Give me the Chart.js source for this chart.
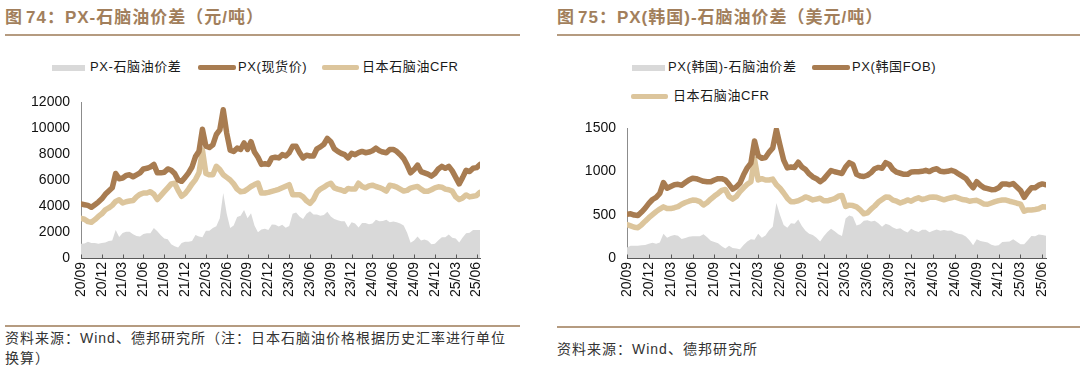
<!DOCTYPE html>
<html><head><meta charset="utf-8">
<script src="https://cdn.jsdelivr.net/npm/chart.js@4"></script>
<style>
html,body{margin:0;padding:0;background:#fff;}
body{width:1080px;height:381px;position:relative;overflow:hidden;font-family:"Liberation Sans","Noto Sans CJK SC",sans-serif;}
.abs{position:absolute;white-space:nowrap;}
.title{font-weight:bold;font-size:17px;color:#a27f5c;top:7px;line-height:21px;letter-spacing:1px;}
.rule{position:absolute;height:2px;background:#b59b80;}
.lg{font-size:13px;color:#1a1a1a;line-height:16px;letter-spacing:0.6px;}
.sw{position:absolute;}
.foot{font-size:14px;color:#333;letter-spacing:1px;line-height:20px;}
canvas{position:absolute;}
</style></head>
<body>
<div class="abs title" style="left:5px;"><span style="margin-right:3px">图</span>74：PX-石脑油价差（元/吨）</div>
<div class="abs title" style="left:557px;"><span style="margin-right:3px">图</span>75：PX(韩国)-石脑油价差（美元/吨）</div>
<div class="rule" style="left:5px;top:34px;width:515px;"></div>
<div class="rule" style="left:557px;top:34px;width:523px;"></div>

<div class="sw" style="left:52px;top:65px;width:33px;height:6px;background:#d9d9d9;"></div>
<div class="abs lg" style="left:90px;top:59px;">PX-石脑油价差</div>
<div class="sw" style="left:198px;top:65px;width:38px;height:5px;background:#a87c51;border-radius:2px;"></div>
<div class="abs lg" style="left:238px;top:59px;">PX(现货价)</div>
<div class="sw" style="left:322px;top:65px;width:37px;height:5px;background:#dcc59c;border-radius:2px;"></div>
<div class="abs lg" style="left:362px;top:59px;">日本石脑油CFR</div>

<div class="sw" style="left:632px;top:65px;width:33px;height:6px;background:#d9d9d9;"></div>
<div class="abs lg" style="left:668px;top:59px;">PX(韩国)-石脑油价差</div>
<div class="sw" style="left:812px;top:65px;width:38px;height:5px;background:#a87c51;border-radius:2px;"></div>
<div class="abs lg" style="left:852px;top:59px;">PX(韩国FOB)</div>
<div class="sw" style="left:631px;top:94px;width:37px;height:5px;background:#dcc59c;border-radius:2px;"></div>
<div class="abs lg" style="left:673px;top:88px;">日本石脑油CFR</div>

<canvas id="c1" width="489" height="218" style="left:0px;top:92px;"></canvas>
<canvas id="c2" width="515" height="192" style="left:540px;top:118px;"></canvas>

<div class="rule" style="left:5px;top:325px;width:515px;"></div>
<div class="rule" style="left:557px;top:326px;width:523px;"></div>
<div class="abs foot" style="left:5px;top:328px;">资料来源：Wind、德邦研究所（注：日本石脑油价格根据历史汇率进行单位</div>
<div class="abs foot" style="left:5px;top:348px;">换算）</div>
<div class="abs foot" style="left:557px;top:339px;">资料来源：Wind、德邦研究所</div>

<script>
// half-month observation dates
const periods = [
'2020-09-01','2020-09-16','2020-10-01','2020-10-16','2020-11-01','2020-11-16','2020-12-01','2020-12-16',
'2021-01-01','2021-01-16','2021-02-01','2021-02-16','2021-03-01','2021-03-16','2021-04-01','2021-04-16',
'2021-05-01','2021-05-16','2021-06-01','2021-06-16','2021-07-01','2021-07-16','2021-08-01','2021-08-16',
'2021-09-01','2021-09-16','2021-10-01','2021-10-16','2021-11-01','2021-11-16','2021-12-01','2021-12-16',
'2022-01-01','2022-01-16','2022-02-01','2022-02-16','2022-03-01','2022-03-16','2022-04-01','2022-04-16',
'2022-05-01','2022-05-16','2022-06-01','2022-06-16','2022-07-01','2022-07-16','2022-08-01','2022-08-16',
'2022-09-01','2022-09-16','2022-10-01','2022-10-16','2022-11-01','2022-11-16','2022-12-01','2022-12-16',
'2023-01-01','2023-01-16','2023-02-01','2023-02-16','2023-03-01','2023-03-16','2023-04-01','2023-04-16',
'2023-05-01','2023-05-16','2023-06-01','2023-06-16','2023-07-01','2023-07-16','2023-08-01','2023-08-16',
'2023-09-01','2023-09-16','2023-10-01','2023-10-16','2023-11-01','2023-11-16','2023-12-01','2023-12-16',
'2024-01-01','2024-01-16','2024-02-01','2024-02-16','2024-03-01','2024-03-16','2024-04-01','2024-04-16',
'2024-05-01','2024-05-16','2024-06-01','2024-06-16','2024-07-01','2024-07-16','2024-08-01','2024-08-16',
'2024-09-01','2024-09-16','2024-10-01','2024-10-16','2024-11-01','2024-11-16','2024-12-01','2024-12-16',
'2025-01-01','2025-01-16','2025-02-01','2025-02-16','2025-03-01','2025-03-16','2025-04-01','2025-04-16',
'2025-05-01','2025-05-16','2025-06-01','2025-06-16'];

const tickLabels = ['20/09','20/12','21/03','21/06','21/09','21/12','22/03','22/06','22/09','22/12',
'23/03','23/06','23/09','23/12','24/03','24/06','24/09','24/12','25/03','25/06'];

// Fig 74 (CNY/t)
const pxSpot = [
4150,4100,4050,3900,4100,4300,4550,4900,5150,5400,6500,6100,
6150,6350,6400,6250,6400,6550,6850,6900,7000,7200,6550,6550,
6600,6850,6750,6500,6000,5900,6200,6550,7000,7800,8200,9900,
8600,8500,8700,9500,9850,11400,9600,8300,8200,8450,8350,8850,
8350,8950,8150,7750,7200,7250,7200,7700,7750,7700,7950,7850,
8100,8600,8600,8100,7700,7900,7850,7850,8400,8550,8750,9200,
8950,8400,8200,8050,7950,7700,8050,7950,8100,8200,8100,8150,
8250,8450,8250,8150,8100,8350,8350,8200,7950,7650,7150,6550,
6800,7150,6650,6550,6450,6300,6500,6850,7050,6900,7050,6700,
6200,5700,6200,6750,6650,6900,6950,7200];
const naphthaCny = [
3050,2980,2800,2750,2950,3200,3400,3700,3850,4050,4350,4480,
4230,4330,4380,4420,4700,4900,5000,5000,5100,4900,4500,4800,
5100,5400,5700,5750,5200,4750,4950,5300,5700,6030,6550,8300,
6500,6400,6400,7050,6800,6400,6200,6000,5700,5300,5100,5130,
5300,5500,5650,5770,5000,5000,5050,5130,5200,5280,5400,5520,
5640,4870,4870,4870,4700,4400,4200,4500,5050,5300,5450,5640,
5750,5400,5300,5230,5130,5350,5300,5300,5750,5500,5400,5550,
5600,5500,5420,5300,5150,5600,5550,5450,5300,5150,5200,5380,
5450,5500,5300,5130,5130,5250,5400,5480,5450,5300,5250,5150,
4700,4500,4620,4850,4700,4750,4800,5050];
const spreadCny = [
1100,1120,1250,1150,1150,1100,1150,1200,1300,1350,2150,1620,
1920,2020,2020,1830,1700,1650,1850,1900,1900,2300,2050,1750,
1500,1450,1050,900,800,1150,1250,1250,1300,1770,1650,1600,
2100,2100,2300,2450,3050,5000,3400,2300,2500,3150,3250,3700,
3050,3450,2500,1980,2200,2250,2150,2570,2550,2420,2550,2330,
2460,3400,3500,3200,3000,3400,3600,3350,3350,3250,3300,3550,
3200,3000,2900,2820,2820,2350,2750,2650,2350,2700,2700,2600,
2650,2950,2830,2850,2950,2750,2800,2750,2650,2500,1950,1170,
1350,1650,1350,1420,1320,1050,1100,1370,1600,1600,1800,1550,
1500,1200,1580,1900,1950,2150,2150,2150];

// Fig 75 (USD/t)
const pxKoreaFob = [
505,510,495,490,530,575,630,675,700,745,870,805,
825,845,850,840,870,900,920,915,900,885,880,880,
900,915,915,900,850,795,820,865,960,1040,1095,1350,
1180,1150,1160,1220,1270,1480,1300,1130,1040,1050,1045,1105,
1050,1020,970,935,915,880,910,960,1010,995,985,975,
1050,1100,1080,965,945,940,955,985,1030,1045,1035,1100,
1080,1020,990,978,965,965,993,995,995,1000,1012,997,
1020,1030,1000,995,1000,1012,998,970,945,918,860,810,
880,840,810,800,788,790,810,855,855,845,860,820,
780,700,760,810,810,840,855,845];
const naphthaUsd = [
385,370,355,350,383,425,465,500,535,565,590,570,
570,580,593,620,640,655,668,665,650,612,640,680,
715,745,780,790,710,680,710,765,810,850,880,1140,
900,915,900,900,910,845,805,750,690,650,650,660,
680,705,690,670,680,689,660,660,672,686,712,722,
595,610,605,590,555,510,520,565,600,645,675,705,
700,668,655,635,650,670,655,680,695,675,685,700,
705,700,685,672,685,695,705,690,675,670,655,662,
665,645,622,620,635,650,662,670,668,655,645,632,
622,540,555,555,560,568,590,588];
const spreadUsd = [
120,140,140,140,147,150,165,175,165,180,280,235,
255,265,257,220,230,245,252,250,250,273,240,200,
185,170,135,110,140,115,110,100,150,190,215,210,
280,235,260,320,360,635,495,380,350,400,395,445,
370,315,280,265,235,191,250,300,338,309,273,253,
455,490,475,375,390,430,435,420,430,400,360,395,
380,352,335,343,315,295,338,315,300,325,327,297,
315,330,315,323,315,317,293,280,270,248,205,148,
215,195,188,180,153,140,148,185,187,190,215,188,
158,160,205,255,250,272,265,257];

const C_PX = '#a87c51', C_NAP = '#dcc59c', C_SPREAD = '#d9d9d9';

function monthOffset(s){ const p = s.split('-').map(Number); return (p[0]-2020)*12 + (p[1]-9) + (p[2]-1)/30; }
const xs = periods.map(monthOffset);
const tickPos = tickLabels.map(t => { const p = t.split('/').map(Number); return (p[0]-20)*12 + (p[1]-9); });
const pts = arr => arr.map((v,i) => ({x: xs[i], y: v}));

const innerTicks = {
  id: 'innerTicks',
  afterDatasetsDraw(chart){
    const s = chart.scales.x, ctx = chart.ctx, a = chart.chartArea;
    ctx.save();
    ctx.strokeStyle = '#595959'; ctx.lineWidth = 1;
    ctx.beginPath();
    const yb = Math.round(a.bottom) + 0.5;
    ctx.moveTo(a.left, yb); ctx.lineTo(a.right, yb);
    s.ticks.forEach(t => {
      const x = Math.round(s.getPixelForValue(t.value)) + 0.5;
      ctx.moveTo(x, yb); ctx.lineTo(x, yb - 4);
    });
    ctx.stroke();
    ctx.restore();
  }
};

const tickFont = {family: 'Liberation Sans', size: 14};

function makeChart(id, ymax, step, yWidth, lineA, lineB, area){
  new Chart(document.getElementById(id), {
    type: 'line',
    data: { datasets: [
      {data: pts(lineA), borderColor: C_PX, borderWidth: 5.5, fill: false, borderJoinStyle: 'round', borderCapStyle: 'round'},
      {data: pts(lineB), borderColor: C_NAP, borderWidth: 5.5, fill: false, borderJoinStyle: 'round', borderCapStyle: 'round'},
      {data: pts(area), borderColor: 'rgba(0,0,0,0)', borderWidth: 0, backgroundColor: C_SPREAD, fill: 'origin'}
    ]},
    options: {
      responsive: false, animation: false, events: [],
      layout: {padding: {top: 10, right: 9, left: 0, bottom: 0}},
      plugins: {legend: {display: false}, tooltip: {enabled: false}},
      elements: {point: {radius: 0}, line: {tension: 0}},
      scales: {
        x: {
          type: 'linear', min: 0, max: 57.5,
          grid: {display: false, drawTicks: false},
          border: {display: true, color: '#595959'},
          afterBuildTicks: s => { s.ticks = tickPos.map(v => ({value: v})); },
          afterFit: s => { s.height = 52; s.paddingLeft = 0; s.paddingRight = 0; },
          ticks: {autoSkip: false, minRotation: 90, maxRotation: 90, padding: 4, color: '#111', font: tickFont,
                  callback: (v, i) => tickLabels[i]}
        },
        y: {
          min: 0, max: ymax,
          grid: {display: false, drawTicks: false},
          border: {display: true, color: '#8c8c8c'},
          afterFit: s => { s.width = yWidth; s.paddingTop = 0; s.paddingBottom = 0; },
          ticks: {stepSize: step, padding: 11, color: '#111', font: tickFont, callback: v => String(v)}
        }
      }
    },
    plugins: [innerTicks]
  });
}

makeChart('c1', 12000, 2000, 81, pxSpot, naphthaCny, spreadCny);
makeChart('c2', 1500, 500, 87, pxKoreaFob, naphthaUsd, spreadUsd);
</script>
</body></html>
